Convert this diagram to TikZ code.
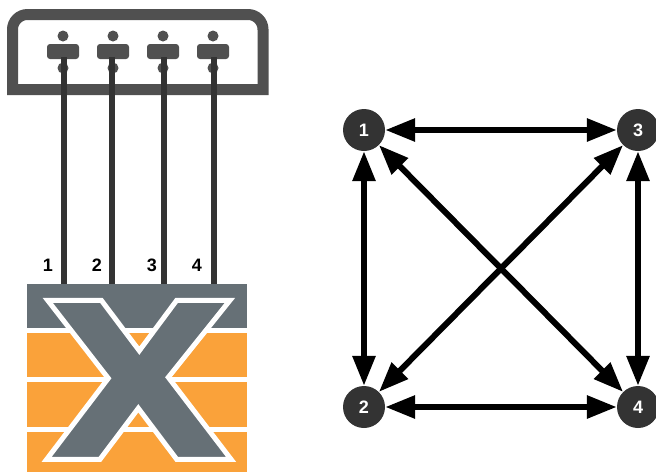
\documentclass[tikz,border=0pt]{standalone}
\usepackage{fontspec}
\setmainfont{Liberation Sans}
\usetikzlibrary{arrows.meta}
\definecolor{boxgray}{HTML}{505050}
\definecolor{wiregray}{HTML}{333333}
\definecolor{xgray}{HTML}{667076}
\definecolor{xorange}{HTML}{FAA23A}
\tikzset{
    portdot/.style={circle, fill=boxgray, minimum size=11pt, inner sep=0pt},
    portbar/.style={rectangle, rounded corners=3pt, fill=boxgray, minimum width=32pt, minimum height=15pt, inner sep=0pt},
    wire/.style={draw=wiregray, line width=6pt},
    numlabel/.style={font=\bfseries\fontsize{18}{18}\selectfont, text=black},
    meshnode/.style={circle, fill=wiregray, minimum size=42pt, inner sep=0pt, font=\bfseries\fontsize{18}{18}\selectfont, text=white},
    mesharrow/.style={black, line width=6pt, {Triangle[length=30pt,width=22pt]}-{Triangle[length=30pt,width=22pt]}},
    whiteline/.style={draw=white, line width=5pt},
}
\begin{document}
\begin{tikzpicture}[x=1pt, y=-1pt]
    \useasboundingbox (0,0) rectangle (656,472);

    % 上の箱
    \draw[boxgray, line width=11pt, line join=miter] (12.5,89.5) [rounded corners=15pt] -- (12.5,14.5) -- (263,14.5) [sharp corners] -- (263,89.5) -- cycle;

    % ポートの描画
    \foreach \i/\x in {1/63, 2/113, 3/163, 4/213} {
        \node[portdot] (up\i) at (\x,36) {};
        \node[portbar] (bar\i) at (\x,51.5) {};
        \node[portdot] (low\i) at (\x,68) {};
    }

    % スイッチの描画
    \fill[xorange] (27,284) rectangle (247,472);
    \fill[xgray] (27,284) rectangle (247,329);
    \foreach \y in {330.5, 379.5, 429} {
        \draw[whiteline] (27,\y) -- (247,\y);
    }
    \coordinate (sw1) at (63.5,284);
    \coordinate (sw2) at (112,284);
    \coordinate (sw3) at (164,284);
    \coordinate (sw4) at (214,284);
    \coordinate (top1) at (63.5,57);
    \coordinate (top2) at (112,57);
    \coordinate (top3) at (164,57);
    \coordinate (top4) at (214,57);

    % 配線
    \foreach \i in {1,2,3,4}
        \draw[wire] (top\i) -- (sw\i);

    % X の描画
    \draw[fill=xgray, draw=white, line width=5pt, line join=miter, miter limit=10]
        (47.7,300.3) -- (101.3,300.3) -- (139.3,350.7) -- (176.7,300.3) -- (230,300.3) -- (168.3,377.3)
        -- (231,459.3) -- (176.7,459.3) -- (138.3,408.3) -- (100,459.3) -- (46.7,459.3) -- (108.3,378.3) -- cycle;

    % 番号
    \foreach \i/\x in {1/48, 2/97, 3/152, 4/197}
        \node[numlabel] (num\i) at (\x,265) {\i};

    % 右のグラフ
    \node[meshnode] (n1) at (364,130) {1};
    \node[meshnode] (n2) at (364,407) {2};
    \node[meshnode] (n3) at (638,130) {3};
    \node[meshnode] (n4) at (638,407) {4};

    \draw[mesharrow] (n1) -- (n3);
    \draw[mesharrow] (n1) -- (n2);
    \draw[mesharrow] (n1) -- (n4);
    \draw[mesharrow] (n2) -- (n3);
    \draw[mesharrow] (n2) -- (n4);
    \draw[mesharrow] (n3) -- (n4);
\end{tikzpicture}
\end{document}
